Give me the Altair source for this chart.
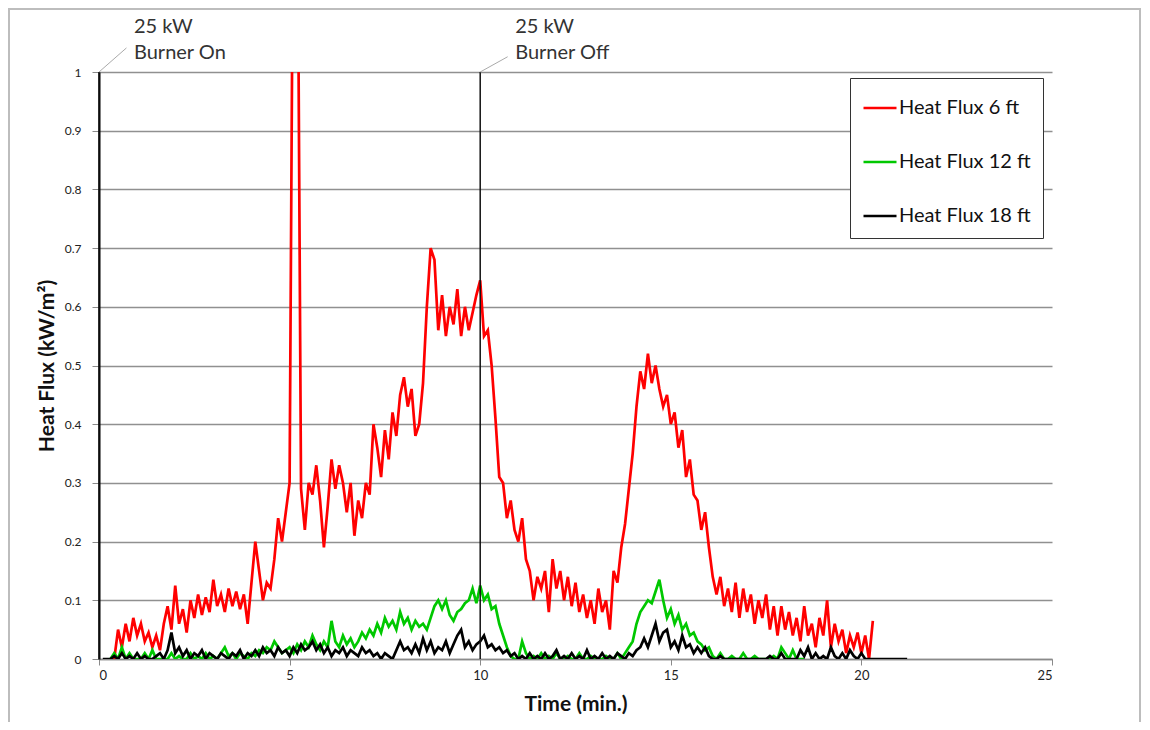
import altair as alt
import numpy as np
import pandas as pd

STEP = 0.1

# Heat Flux 6 ft (starts at 0.4 min, one value per 0.1 min)
red_start = 0.4
red_vals = [
    0.0, 0.05, 0.02, 0.06, 0.03, 0.07,
    0.04, 0.06, 0.03, 0.045, 0.02, 0.04, 0.015, 0.06, 0.09, 0.05,
    0.125, 0.06, 0.085, 0.045, 0.1, 0.07, 0.11, 0.075, 0.105, 0.08,
    0.135, 0.09, 0.11, 0.08, 0.12, 0.09, 0.115, 0.085, 0.11, 0.06,
    0.13, 0.2, 0.15, 0.1, 0.13, 0.12, 0.17, 0.24, 0.2, 0.25,
    0.3, 1.4, 1.4, 0.29, 0.22, 0.3, 0.28, 0.33, 0.27, 0.19,
    0.26, 0.34, 0.29, 0.33, 0.3, 0.25, 0.3, 0.21, 0.27, 0.24,
    0.3, 0.28, 0.4, 0.36, 0.31, 0.39, 0.34, 0.42, 0.38, 0.45,
    0.48, 0.43, 0.46, 0.38, 0.4, 0.47, 0.6, 0.7, 0.68, 0.56,
    0.62, 0.55, 0.6, 0.57, 0.63, 0.55, 0.6, 0.56, 0.59, 0.62,
    0.645, 0.55, 0.56, 0.5, 0.41, 0.31, 0.3, 0.24, 0.27, 0.22,
    0.2, 0.24, 0.17, 0.15, 0.1, 0.14, 0.12, 0.15, 0.08, 0.17,
    0.12, 0.15, 0.1, 0.14, 0.09, 0.13, 0.08, 0.11, 0.07, 0.1,
    0.06, 0.12, 0.08, 0.1, 0.05, 0.15, 0.13, 0.19, 0.23, 0.29,
    0.35, 0.43, 0.49, 0.46, 0.52, 0.47, 0.5, 0.46, 0.43, 0.45,
    0.4, 0.42, 0.36, 0.39, 0.31, 0.34, 0.28, 0.27, 0.22, 0.25,
    0.19, 0.14, 0.11, 0.14, 0.09, 0.12, 0.08, 0.13, 0.07, 0.12,
    0.08, 0.11, 0.06, 0.1, 0.07, 0.11, 0.05, 0.09, 0.04, 0.09,
    0.05, 0.08, 0.04, 0.07, 0.03, 0.09, 0.04, 0.06, 0.02, 0.07,
    0.04, 0.1, 0.02, 0.06, 0.03, 0.05, 0.01, 0.04, 0.02, 0.045,
    0.01, 0.04, 0.0, 0.065,
]

# Heat Flux 12 ft (starts at 0.3 min)
green_start = 0.3
green_vals = [
    0.0, 0.01, 0.0, 0.02, 0.0, 0.01, 0.0,
    0.0, 0.0, 0.01, 0.0, 0.015, 0.0, 0.0, 0.0, 0.0, 0.01,
    0.0, 0.005, 0.0, 0.0, 0.01, 0.0, 0.005, 0.0, 0.01, 0.0,
    0.005, 0.0, 0.01, 0.02, 0.005, 0.01, 0.0, 0.01, 0.005, 0.0,
    0.01, 0.005, 0.015, 0.01, 0.02, 0.015, 0.03, 0.02, 0.01, 0.015,
    0.02, 0.01, 0.025, 0.015, 0.03, 0.02, 0.04, 0.025, 0.015, 0.03,
    0.02, 0.065, 0.03, 0.02, 0.04, 0.025, 0.035, 0.02, 0.03, 0.045,
    0.035, 0.05, 0.04, 0.06, 0.045, 0.07, 0.055, 0.065, 0.05, 0.08,
    0.06, 0.07, 0.05, 0.065, 0.055, 0.06, 0.05, 0.07, 0.09, 0.1,
    0.085, 0.1, 0.075, 0.065, 0.08, 0.085, 0.095, 0.1, 0.12, 0.095,
    0.125, 0.1, 0.11, 0.085, 0.09, 0.06, 0.04, 0.02, 0.005, 0.0,
    0.0, 0.03, 0.01, 0.0, 0.005, 0.0, 0.01, 0.0, 0.005, 0.0,
    0.01, 0.0, 0.0, 0.005, 0.0, 0.0, 0.01, 0.0, 0.0, 0.005,
    0.0, 0.0, 0.0, 0.005, 0.0, 0.0, 0.01, 0.0, 0.01, 0.02,
    0.03, 0.06, 0.08, 0.09, 0.1, 0.095, 0.115, 0.135, 0.1, 0.07,
    0.085, 0.06, 0.075, 0.05, 0.06, 0.04, 0.045, 0.03, 0.025, 0.015,
    0.02, 0.005, 0.0, 0.01, 0.0, 0.0, 0.005, 0.0, 0.0, 0.01,
    0.0, 0.0, 0.005, 0.0, 0.0, 0.0, 0.0, 0.005, 0.0, 0.02,
    0.01, 0.0, 0.015, 0.0, 0.0, 0.0,
]

# Heat Flux 18 ft (starts at 0.1 min)
black_start = 0.1
black_vals = [
    0.0, 0.0, 0.0, 0.005, 0.0, 0.01, 0.0, 0.005, 0.0,
    0.01, 0.0, 0.005, 0.0, 0.0, 0.005, 0.01, 0.0, 0.015, 0.045,
    0.01, 0.02, 0.005, 0.015, 0.0, 0.01, 0.005, 0.015, 0.0, 0.01,
    0.005, 0.0, 0.01, 0.005, 0.0, 0.01, 0.005, 0.015, 0.0, 0.01,
    0.005, 0.015, 0.005, 0.02, 0.01, 0.015, 0.005, 0.02, 0.01, 0.015,
    0.005, 0.02, 0.01, 0.025, 0.015, 0.02, 0.03, 0.015, 0.025, 0.01,
    0.02, 0.005, 0.015, 0.01, 0.02, 0.005, 0.015, 0.01, 0.005, 0.02,
    0.01, 0.015, 0.005, 0.01, 0.0, 0.01, 0.005, 0.0, 0.015, 0.03,
    0.015, 0.02, 0.01, 0.025, 0.01, 0.035, 0.015, 0.03, 0.01, 0.02,
    0.015, 0.03, 0.01, 0.025, 0.04, 0.05, 0.02, 0.03, 0.015, 0.025,
    0.03, 0.04, 0.02, 0.025, 0.015, 0.02, 0.01, 0.015, 0.005, 0.01,
    0.0, 0.005, 0.0, 0.01, 0.0, 0.005, 0.0, 0.01, 0.0, 0.005,
    0.015, 0.0, 0.005, 0.0, 0.01, 0.0, 0.005, 0.0, 0.015, 0.0,
    0.005, 0.0, 0.01, 0.0, 0.005, 0.0, 0.01, 0.005, 0.0, 0.01,
    0.005, 0.015, 0.02, 0.035, 0.02, 0.04, 0.06, 0.03, 0.045, 0.05,
    0.02, 0.03, 0.015, 0.04, 0.02, 0.025, 0.01, 0.02, 0.01, 0.02,
    0.005, 0.0, 0.0, 0.005, 0.0, 0.0, 0.0, 0.0, 0.0, 0.0,
    0.0, 0.0, 0.0, 0.0, 0.0, 0.0, 0.005, 0.0, 0.0, 0.01,
    0.0, 0.0, 0.0, 0.0, 0.015, 0.005, 0.02, 0.0, 0.01, 0.0,
    0.005, 0.0, 0.02, 0.005, 0.0, 0.01, 0.0, 0.015, 0.005, 0.0,
    0.01, 0.0, 0.0, 0.0, 0.0, 0.0, 0.0, 0.0, 0.0, 0.0,
    0.0, 0.0, 0.0,
]

series_names = ["Heat Flux 6 ft", "Heat Flux 12 ft", "Heat Flux 18 ft"]
series_colors = ["#ff0000", "#00c800", "#000000"]

event_times = [0, 10]
event_line1 = ["25 kW", "25 kW"]
event_line2 = ["Burner On", "Burner Off"]

x_ticks = [0, 5, 10, 15, 20, 25]
y_ticks = [0, 0.1, 0.2, 0.3, 0.4, 0.5, 0.6, 0.7, 0.8, 0.9, 1.0]

FONT = "Lato"


def series_df(name, start, vals):
    t = np.round(start + STEP * np.arange(len(vals)), 2)
    return pd.DataFrame({"time": t, "flux": vals, "series": name})


dfs = [
    series_df(series_names[0], red_start, red_vals),
    series_df(series_names[1], green_start, green_vals),
    series_df(series_names[2], black_start, black_vals),
]
events = pd.DataFrame({"t": event_times, "line1": event_line1, "line2": event_line2})

x_enc = alt.X(
    "time:Q",
    scale=alt.Scale(domain=[0, 25], nice=False),
    axis=alt.Axis(
        values=x_ticks, title="Time (min.)", grid=False,
        domainColor="#8a8a8a", domainWidth=1.5, tickColor="#8a8a8a", tickSize=6,
        labelPadding=4, labelFontSize=13, labelColor="#222", labelFont=FONT,
        titleFont=FONT, titleFontSize=21, titleFontWeight="bold", titleColor="#111",
        titlePadding=11,
    ),
)
y_enc = alt.Y(
    "flux:Q",
    scale=alt.Scale(domain=[0, 1], nice=False),
    axis=alt.Axis(
        values=y_ticks, format="~g", title="Heat Flux (kW/m²)", grid=True,
        gridColor="#909090", gridWidth=1.5,
        domainColor="#000", domainWidth=2, tickColor="#8a8a8a", tickSize=7,
        labelPadding=11, labelFontSize=12, labelColor="#222", labelFont=FONT,
        titleFont=FONT, titleFontSize=21, titleFontWeight="bold", titleColor="#111",
        titlePadding=7,
    ),
)
color_enc = alt.Color(
    "series:N",
    scale=alt.Scale(domain=series_names, range=series_colors),
    legend=alt.Legend(
        title=None, orient="none", legendX=751, legendY=6,
        strokeColor="#333", fillColor="white", padding=12,
        symbolType="stroke", symbolSize=1089, symbolStrokeWidth=2.5,
        labelFont=FONT, labelFontSize=20, labelColor="#111", labelOffset=1,
        rowPadding=26, labelLimit=300,
    ),
)

lines = [
    alt.Chart(d).mark_line(strokeWidth=2.7, clip=True).encode(
        x=x_enc, y=y_enc, color=color_enc
    )
    for d in dfs
]

base_ev = alt.Chart(events)
event_rules = base_ev.mark_rule(color="#111", strokeWidth=1.5).encode(x="t:Q")
leaders = base_ev.transform_calculate(
    t2="datum.t + 0.72", ytop="1", ylead="datum.t == 0 ? 1.041 : 1.026"
).mark_rule(color="#aaaaaa", strokeWidth=1).encode(
    x="t:Q", x2="t2:Q", y="ytop:Q", y2="ylead:Q"
)
text1 = base_ev.mark_text(
    align="left", baseline="middle", dx=35, font=FONT, fontSize=20, color="#333"
).encode(x="t:Q", y=alt.value(-45), text="line1:N")
text2 = base_ev.mark_text(
    align="left", baseline="middle", dx=35, font=FONT, fontSize=20, color="#333"
).encode(x="t:Q", y=alt.value(-19), text="line2:N")

# decorative outer frame of the figure
frame = base_ev.mark_rect(
    fill=None, stroke="#bdbdbd", strokeWidth=2
).encode(
    x=alt.value(-90), x2=alt.value(1041), y=alt.value(-63), y2=alt.value(700)
)

chart = alt.layer(
    frame, *lines, event_rules, leaders, text1, text2
).properties(
    width=953, height=587,
    autosize=alt.AutoSizeParams(type="none"),
    padding={"left": 91, "top": 64, "right": 90, "bottom": 63},
    background="white",
).configure_view(stroke=None)

chart.save("out.html", embed_options={"renderer": "svg", "actions": False})
